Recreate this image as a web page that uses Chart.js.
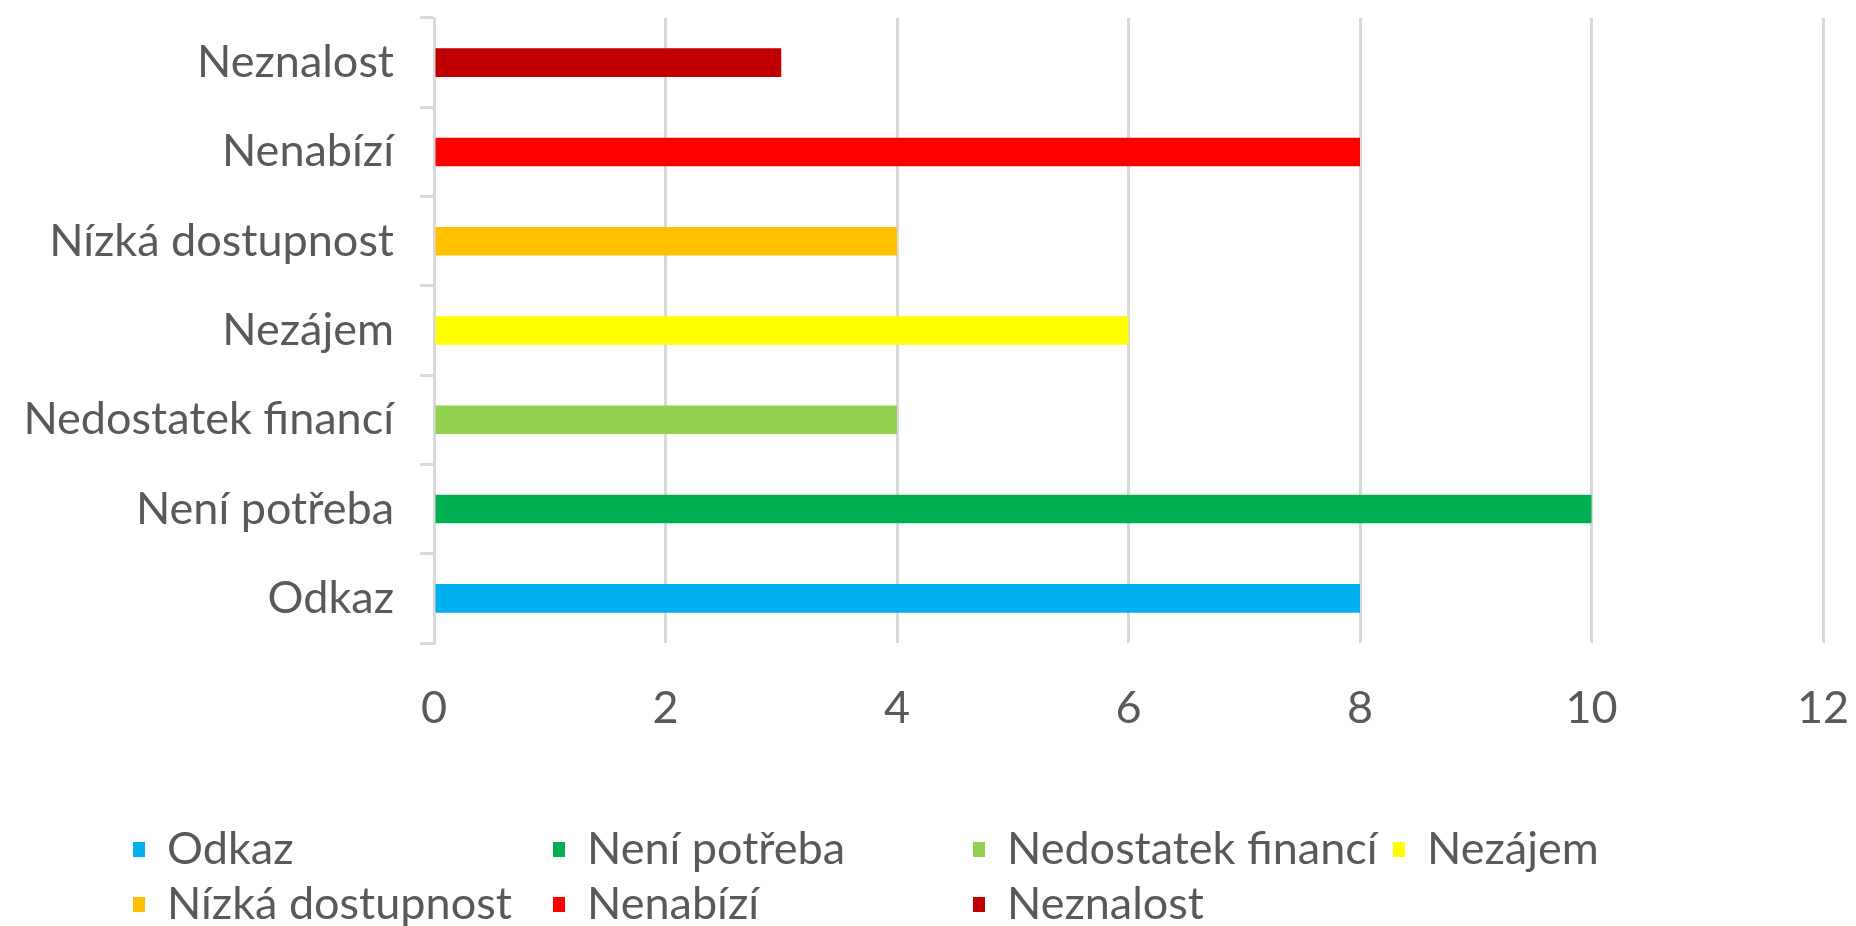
<!DOCTYPE html>
<html>
<head>
<meta charset="utf-8">
<script src="https://cdn.jsdelivr.net/npm/chart.js@4.4.1/dist/chart.umd.min.js"></script>
<style>
  html, body { margin: 0; padding: 0; background: #fff; }
  #wrap { width: 1856px; height: 926px; position: relative; }
</style>
</head>
<body>
<div id="wrap"><canvas id="chart"></canvas></div>
<script>
// data
const categories = ['Odkaz', 'Není potřeba', 'Nedostatek financí', 'Nezájem', 'Nízká dostupnost', 'Nenabízí', 'Neznalost'];
const values = [8, 10, 4, 6, 4, 8, 3];
const barColors = ['#00B0F0', '#00B050', '#92D050', '#FFFF00', '#FFC000', '#FF0000', '#C00000'];
const xTicks = ['0', '2', '4', '6', '8', '10', '12'];

const TEXT_COLOR = '#595959';
const GRID_COLOR = '#d9d9d9';
const FONT = { family: 'Lato, "Open Sans", sans-serif', size: 45 };

// legend drawn in fixed columns like the office chart
const gridLegend = {
    id: 'gridLegend',
    afterDraw(chart) {
        const ctx = chart.ctx;
        ctx.save();
        ctx.font = `${FONT.size}px ${FONT.family}`;
        ctx.textBaseline = 'middle';
        ctx.textAlign = 'left';
        categories.forEach((name, i) => {
            const col = i % 4, row = Math.floor(i / 4);
            const x = 133 + col * 420;
            const y = 849 + row * 55;
            ctx.fillStyle = barColors[i];
            ctx.fillRect(x, y - 7, 12, 15);
            ctx.fillStyle = TEXT_COLOR;
            ctx.fillText(name, x + 34, y);
        });
        ctx.restore();
    }
};

new Chart(document.getElementById('chart'), {
    type: 'bar',
    data: {
        labels: categories,
        datasets: [{
            data: values,
            backgroundColor: barColors,
            barPercentage: 0.32,
            categoryPercentage: 1
        }]
    },
    options: {
        indexAxis: 'y',
        responsive: true,
        maintainAspectRatio: false,
        animation: false,
        layout: { padding: { left: 0, right: 33, top: 18, bottom: 193 } },
        scales: {
            x: {
                min: 0, max: 12,
                ticks: {
                    stepSize: 2, color: TEXT_COLOR, font: FONT, padding: 38,
                    callback: (v, i) => xTicks[i]
                },
                grid: { color: GRID_COLOR, lineWidth: 3, drawTicks: false },
                border: { display: false },
                afterFit: (s) => {
                    s.height = 90;
                    s.paddingLeft = 0;
                    s.paddingRight = 0;
                }
            },
            y: {
                reverse: true,
                ticks: { color: TEXT_COLOR, font: FONT, padding: 26 },
                grid: { drawOnChartArea: false, color: GRID_COLOR, lineWidth: 3, tickLength: 14, offset: true },
                border: { display: true, color: GRID_COLOR, width: 3 },
                afterFit: (s) => {
                    s.width = 434;
                    s.paddingTop = 0;
                    s.paddingBottom = 0;
                }
            }
        },
        plugins: {
            legend: { display: false },
            tooltip: { enabled: false }
        }
    },
    plugins: [gridLegend]
});
</script>
</body>
</html>
